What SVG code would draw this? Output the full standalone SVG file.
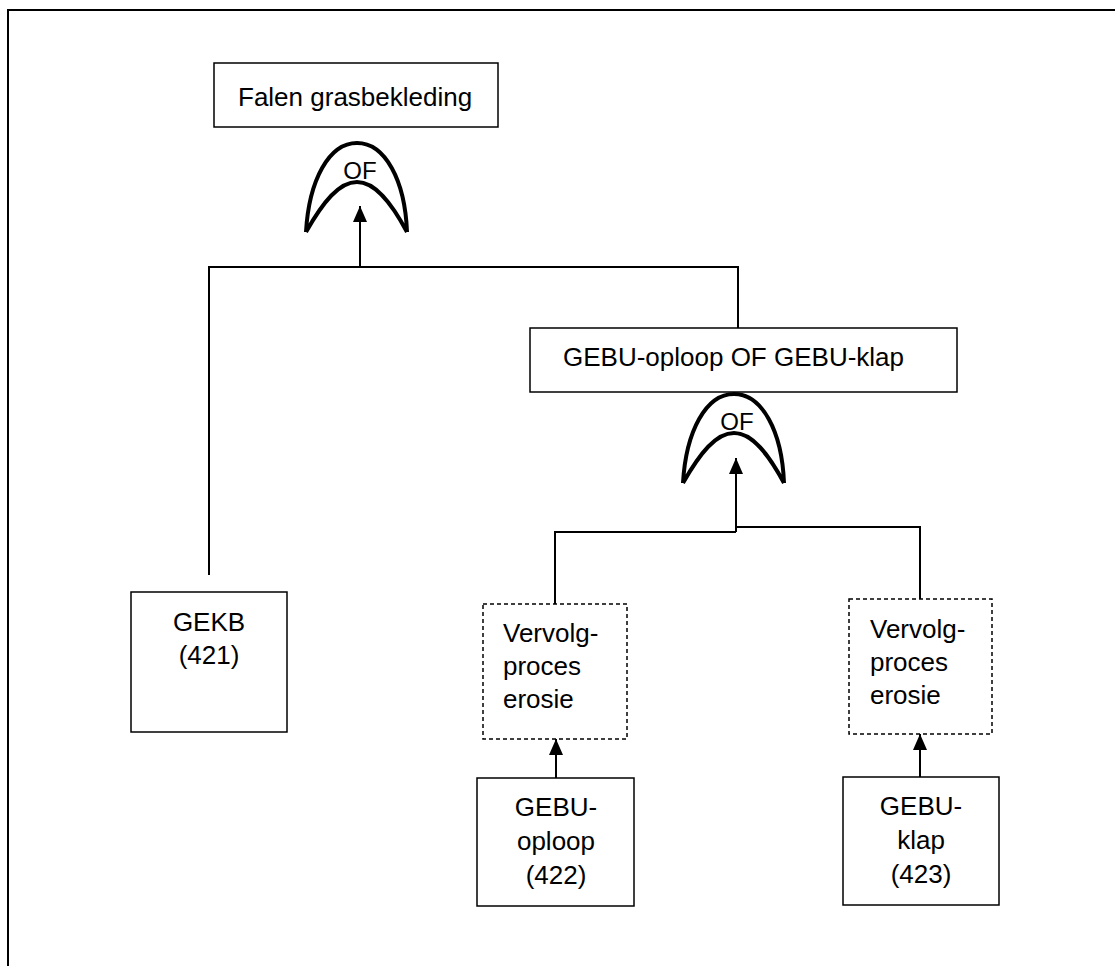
<svg xmlns="http://www.w3.org/2000/svg" width="1115" height="966" viewBox="0 0 1115 966">
<style>
  .box{fill:#fff;stroke:#000;stroke-width:1.5}
  .dbox{fill:#fff;stroke:#000;stroke-width:1.5;stroke-dasharray:4 3}
  .t{font-family:"Liberation Sans",Arial,sans-serif;font-size:26px;fill:#000}
  .c{text-anchor:middle}
  .gate{fill:none;stroke:#000;stroke-width:4;stroke-linejoin:miter}
  .ln{fill:none;stroke:#000;stroke-width:2}
  .of{font-family:"Liberation Sans",Arial,sans-serif;font-size:24px;fill:#000;text-anchor:middle}
</style>
<defs>
  <marker id="ah" viewBox="0 0 16 14" refX="16" refY="7" markerWidth="16" markerHeight="14" markerUnits="userSpaceOnUse" orient="auto">
    <path d="M0,0 L16,7 L0,14 Z" fill="#000"/>
  </marker>
  <path id="gateShape" d="M-51,0 C-48,-52 -28,-89 0,-89 C28,-89 48,-52 50,0 M-51,0 C-34,-30 -18,-50 0,-50 C18,-50 34,-30 50,0"/>
</defs>
<rect x="8" y="10" width="1200" height="1100" fill="#fff" stroke="#000" stroke-width="2"/>

<g id="connectors">
  <path class="ln" d="M209,575 V267 H738 V328"/>
  <path class="ln" d="M360,267 V206" marker-end="url(#ah)"/>
  <path class="ln" d="M555,604 V532 H736 M736,527 H920 V599"/>
  <path class="ln" d="M736,532 V458" marker-end="url(#ah)"/>
  <path class="ln" d="M556,778 V739" marker-end="url(#ah)"/>
  <path class="ln" d="M920,777 V734" marker-end="url(#ah)"/>
</g>

<g id="top">
  <rect class="box" x="214" y="63" width="284" height="64"/>
  <text class="t" x="238" y="106">Falen grasbekleding</text>
</g>
<g id="gate1">
  <use href="#gateShape" class="gate" transform="translate(357,232)"/>
  <text class="of" x="360" y="179">OF</text>
</g>
<g id="mid">
  <rect class="box" x="530" y="328" width="427" height="64"/>
  <text class="t" x="563" y="366">GEBU-oploop OF GEBU-klap</text>
</g>
<g id="gate2">
  <use href="#gateShape" class="gate" transform="translate(734,483)"/>
  <text class="of" x="737" y="430">OF</text>
</g>
<g id="gekb">
  <rect class="box" x="131" y="592" width="156" height="140"/>
  <text class="t c" x="209" y="631">GEKB</text>
  <text class="t c" x="209" y="664">(421)</text>
</g>
<g id="vervolg1">
  <rect class="dbox" x="483" y="604" width="144" height="135"/>
  <text class="t" x="503" y="642">Vervolg-</text>
  <text class="t" x="503" y="675">proces</text>
  <text class="t" x="503" y="708">erosie</text>
</g>
<g id="vervolg2">
  <rect class="dbox" x="849" y="599" width="143" height="135"/>
  <text class="t" x="870" y="638">Vervolg-</text>
  <text class="t" x="870" y="671">proces</text>
  <text class="t" x="870" y="704">erosie</text>
</g>
<g id="oploop">
  <rect class="box" x="477" y="778" width="157" height="128"/>
  <text class="t c" x="556" y="816">GEBU-</text>
  <text class="t c" x="556" y="850">oploop</text>
  <text class="t c" x="556" y="884">(422)</text>
</g>
<g id="klap">
  <rect class="box" x="843" y="777" width="156" height="128"/>
  <text class="t c" x="921" y="815">GEBU-</text>
  <text class="t c" x="921" y="849">klap</text>
  <text class="t c" x="921" y="883">(423)</text>
</g>
</svg>
